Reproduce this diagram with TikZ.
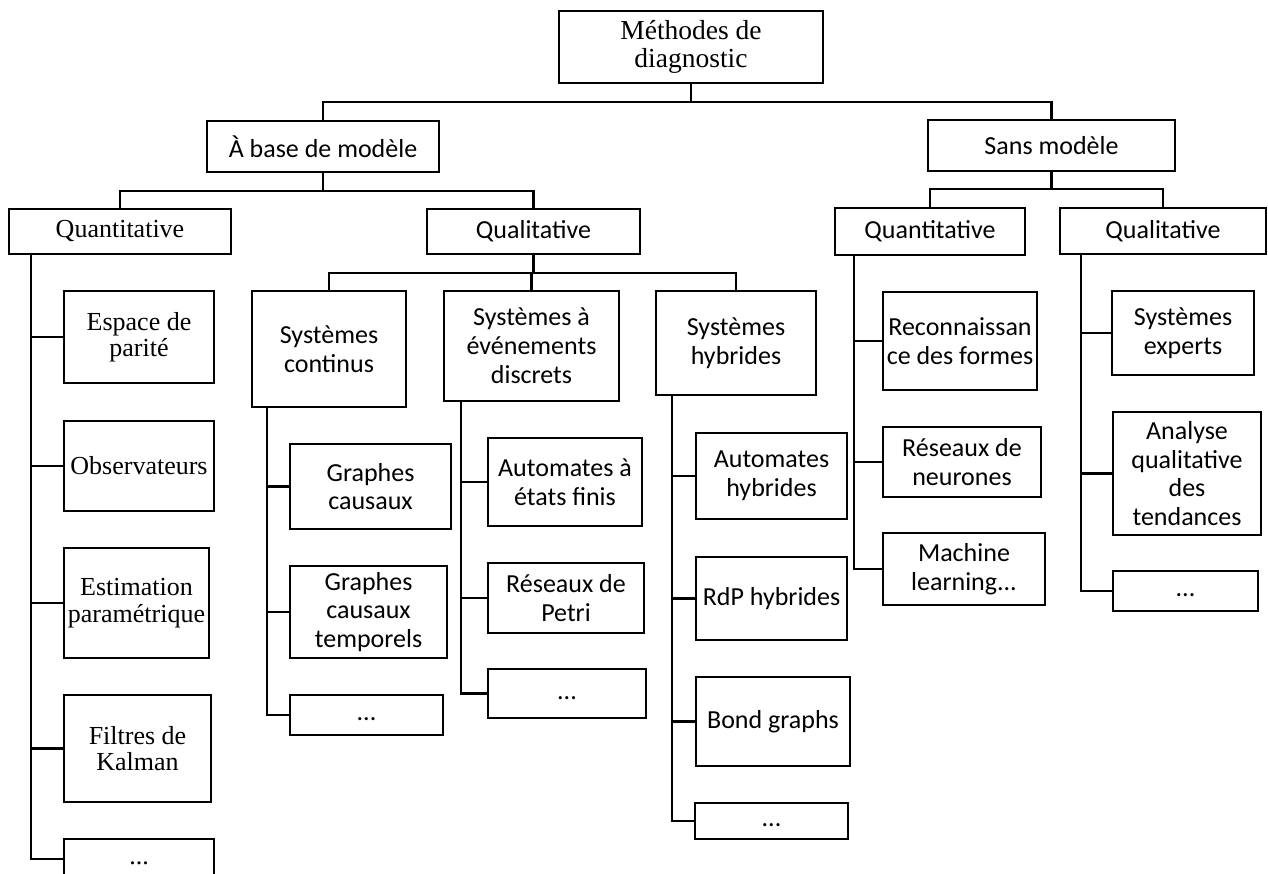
\documentclass[tikz,border=0pt]{standalone}
\usepackage{fontspec}
\setmainfont{Liberation Serif}
\newfontfamily\calib{Carlito}
\begin{document}
\begin{tikzpicture}[x=1pt,y=-1pt,line width=2.6pt,
  box/.style={draw=black,inner sep=0pt,align=center},
  tnr/.style={font=\fontsize{26}{26.5}\selectfont},
  tnrbig/.style={font=\fontsize{27.5}{28}\selectfont},
  cal/.style={font=\calib\fontsize{26}{28.8}\selectfont},
  conn/.style={draw=black,line width=2.6pt}]
\useasboundingbox (0,0) rectangle (1268,874);
% level 0
\node[box,tnrbig,minimum width=264,minimum height=72] (root) at (691,47) {Méthodes de\\diagnostic};
% level 1
\node[box,cal,minimum width=232,minimum height=51] (abm) at (323,146.5) {À base de modèle};
\node[box,cal,minimum width=247,minimum height=51] (sm) at (1051.5,145.5) {Sans modèle};
% level 2
\node[box,tnr,minimum width=222,minimum height=45] (qt1) at (120,231.5) {Quantitative};
\node[box,cal,minimum width=213,minimum height=45] (ql1) at (533.5,231.5) {Qualitative};
\node[box,cal,minimum width=190,minimum height=47] (qt2) at (930,231.5) {Quantitative};
\node[box,cal,minimum width=206,minimum height=46] (ql2) at (1163,231) {Qualitative};
% quantitative (model based)
\node[box,tnr,minimum width=150,minimum height=92] (e1) at (139,337) {Espace de\\parité};
\node[box,tnr,minimum width=150,minimum height=90] (e2) at (139,466) {Observateurs};
\node[box,tnr,minimum width=145,minimum height=110] (e3) at (136.5,603) {Estimation\\paramétrique};
\node[box,tnr,minimum width=147,minimum height=107] (e4) at (137.5,748.5) {Filtres de\\Kalman};
\node[box,tnr,minimum width=150,minimum height=40] (e5) at (139,859) {\strut...};
% qualitative (model based)
\node[box,cal,minimum width=154,minimum height=116] (sc) at (329,349) {Systèmes\\continus};
\node[box,cal,minimum width=175,minimum height=110] (sd) at (531.5,346) {Systèmes à\\événements\\discrets};
\node[box,cal,minimum width=160,minimum height=104] (sh) at (736,343) {Systèmes\\hybrides};
% continus
\node[box,cal,minimum width=161,minimum height=85] (c1) at (370.5,486.5) {Graphes\\causaux};
\node[box,cal,minimum width=157,minimum height=92] (c2) at (368.5,612) {Graphes\\causaux\\temporels};
\node[box,cal,minimum width=153,minimum height=40] (c3) at (366.5,715) {\strut...};
% discrets
\node[box,cal,minimum width=154,minimum height=88] (d1) at (565,482) {Automates à\\états finis};
\node[box,cal,minimum width=156,minimum height=70] (d2) at (566,598) {Réseaux de\\Petri};
\node[box,cal,minimum width=158,minimum height=49] (d3) at (567,693.5) {\strut...};
% hybrides
\node[box,cal,minimum width=151,minimum height=86] (h1) at (771.5,476) {Automates\\hybrides};
\node[box,cal,minimum width=151,minimum height=83] (h2) at (771.5,598.5) {RdP hybrides};
\node[box,cal,minimum width=154,minimum height=89] (h3) at (773,721.5) {Bond graphs};
\node[box,cal,minimum width=153,minimum height=36] (h4) at (771.5,821) {\strut...};
% sans modele quantitative
\node[box,cal,minimum width=154,minimum height=98] (r1) at (960,341) {Reconnaissan\\ce des formes};
\node[box,cal,minimum width=158,minimum height=70] (r2) at (962,462) {Réseaux de\\neurones};
\node[box,cal,minimum width=162,minimum height=72] (r3) at (964,569) {Machine\\learning...};
% sans modele qualitative
\node[box,cal,minimum width=142,minimum height=84] (s1) at (1183,333) {Systèmes\\experts};
\node[box,cal,minimum width=148,minimum height=123] (s2) at (1187,473.5) {Analyse\\qualitative\\des\\tendances};
\node[box,cal,minimum width=145,minimum height=40] (s3) at (1185.5,591) {\strut...};

% bus levels
\coordinate (b0) at (0,102);
\coordinate (b1l) at (0,191);
\coordinate (b1r) at (0,189);
\coordinate (b2) at (0,273);
% stems under parents for vertical lists
\coordinate (qt1b) at (31,254);
\coordinate (scb) at (267,407);
\coordinate (sdb) at (461,401);
\coordinate (shb) at (672,395);
\coordinate (qt2b) at (854,255);
\coordinate (ql2b) at (1081,254);

% tree connectors
\draw[conn] (root.south) -- (root.south |- b0);
\draw[conn] (abm.north) -- (abm.north |- b0) -- (sm.north |- b0) -- (sm.north);
\draw[conn] (abm.south) -- (abm.south |- b1l);
\draw[conn] (qt1.north) -- (qt1.north |- b1l) -- (ql1.north |- b1l) -- (ql1.north);
\draw[conn] (sm.south) -- (sm.south |- b1r);
\draw[conn] (qt2.north) -- (qt2.north |- b1r) -- (ql2.north |- b1r) -- (ql2.north);
\draw[conn] (ql1.south) -- (ql1.south |- b2);
\draw[conn] (sc.north) -- (sc.north |- b2) -- (sh.north |- b2) -- (sh.north);
\draw[conn] (sd.north) -- (sd.north |- b2);

% vertical lists
\draw[conn] (qt1b) |- (e5.west);
\foreach \n in {e1,e2,e3,e4} \draw[conn] (qt1b |- \n.west) -- (\n.west);
\draw[conn] (scb) |- (c3.west);
\foreach \n in {c1,c2} \draw[conn] (scb |- \n.west) -- (\n.west);
\draw[conn] (sdb) |- (d3.west);
\foreach \n in {d1,d2} \draw[conn] (sdb |- \n.west) -- (\n.west);
\draw[conn] (shb) |- (h4.west);
\foreach \n in {h1,h2,h3} \draw[conn] (shb |- \n.west) -- (\n.west);
\draw[conn] (qt2b) |- (r3.west);
\foreach \n in {r1,r2} \draw[conn] (qt2b |- \n.west) -- (\n.west);
\draw[conn] (ql2b) |- (s3.west);
\foreach \n in {s1,s2} \draw[conn] (ql2b |- \n.west) -- (\n.west);
\end{tikzpicture}
\end{document}
